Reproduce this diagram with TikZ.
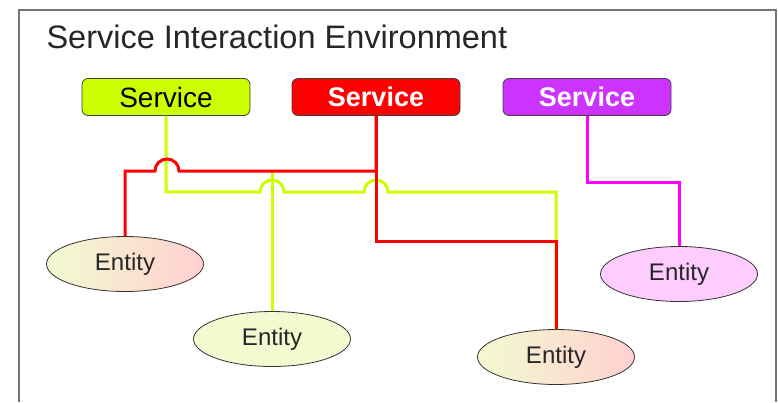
\documentclass[tikz,border=0pt]{standalone}
\usepackage{fontspec}
\setmainfont{Liberation Sans}
\usetikzlibrary{shapes.geometric}
\definecolor{limeline}{HTML}{CCFF00}
\definecolor{redline}{HTML}{FF0000}
\definecolor{pinkline}{HTML}{FF00FF}
\definecolor{violetbox}{HTML}{CC33FF}
\definecolor{paleyellow}{HTML}{F3FAD0}
\definecolor{palered}{HTML}{FFD0D0}
\definecolor{palepink}{HTML}{FFCCFF}
\begin{document}
\begin{tikzpicture}[x=1pt,y=-1pt,
  service/.style={draw=black!75,line width=0.8pt,rounded corners=6pt,
    minimum width=168pt,minimum height=37pt,inner sep=0pt,
    font=\fontsize{28}{28}\selectfont},
  boldservice/.style={service,text=white,font=\fontsize{27}{27}\selectfont\bfseries},
  entity/.style={ellipse,draw=black!80,line width=0.8pt,
    minimum width=157pt,minimum height=55pt,inner sep=0pt,
    font=\fontsize{24}{24}\selectfont,text=black!85},
  wire/.style={line width=3pt}]
  \useasboundingbox (0,0) rectangle (778,402);
  % environment frame
  \draw[line width=2pt,black!55] (19,402) -- (19,9.5) -- (776,9.5) -- (776,402);
  \node[anchor=base west,font=\fontsize{32.5}{32.5}\selectfont,text=black!85]
    (title) at (43,48) {Service Interaction Environment};
  % services
  \node[service,fill=limeline,text=black] (gsvc) at (166,97) {Service};
  \node[boldservice,fill=redline] (rsvc) at (376,97) {Service};
  \node[boldservice,fill=violetbox] (psvc) at (587,97) {Service};
  % entities
  \node[entity,left color=paleyellow,right color=palered] (e1) at (125,264) {Entity};
  \node[entity,fill=paleyellow] (e2) at (272,339) {Entity};
  \node[entity,left color=paleyellow,right color=palered] (e3) at (556,357) {Entity};
  \node[entity,fill=palepink] (e4) at (679,274) {Entity};
  \coordinate (gtap) at (272,171);
  % connectors
  \draw[wire,limeline] (gtap) -- (e2.north);
  \draw[wire,limeline] (gsvc.south) -- ++(0,76) -- (260,192) arc (180:0:12pt)
    -- (364,192) arc (180:0:12pt) -| (e3.north);
  \draw[wire,redline] (rsvc.south) -- ++(0,126) -| (e3.north);
  \draw[wire,redline] (rsvc.south) |- (179,171) arc (0:180:12pt) -| (e1.north);
  \draw[wire,pinkline] (psvc.south) -- ++(0,67) -| (e4.north);
\end{tikzpicture}
\end{document}
